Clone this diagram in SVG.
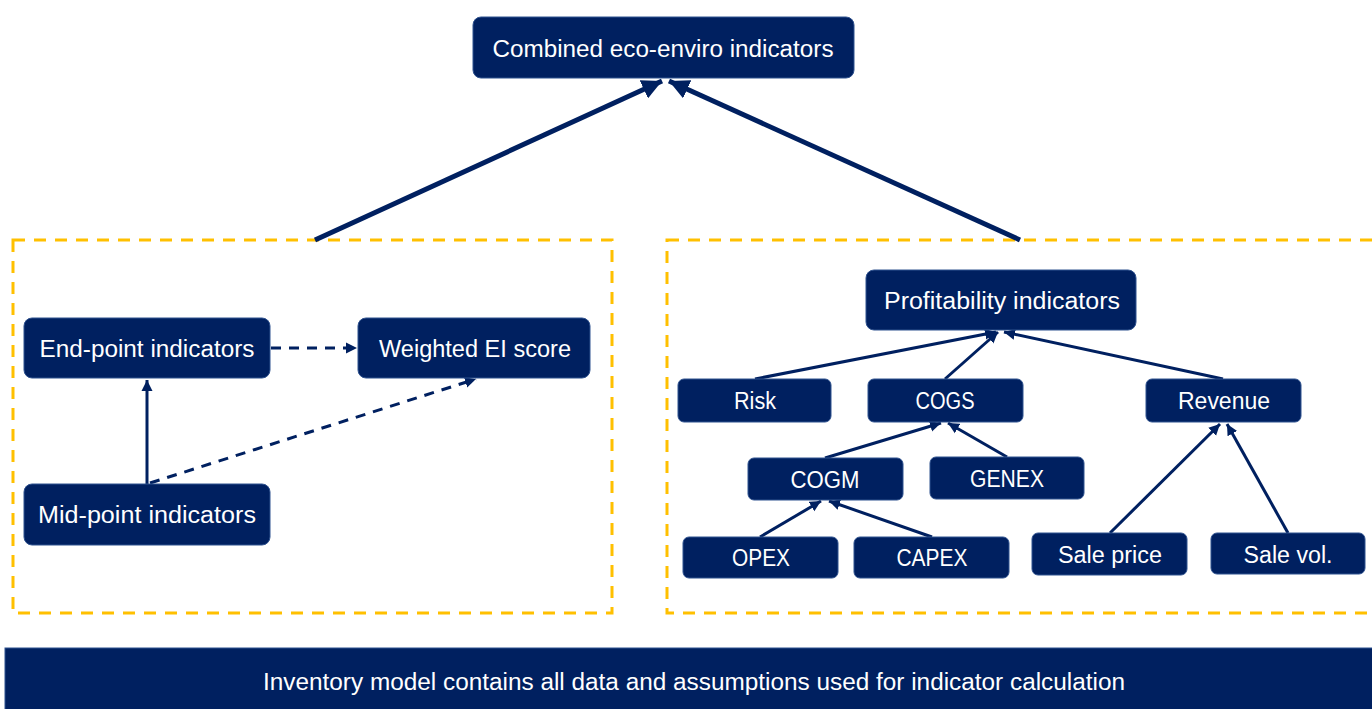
<svg xmlns="http://www.w3.org/2000/svg" width="1372" height="709" viewBox="0 0 1372 709">
<style>
.node rect{fill:#002060;stroke:#2F528F;stroke-width:1}
.node text{fill:#fff;font-family:"Liberation Sans",Arial,sans-serif;font-size:23px;text-anchor:middle}
.grp{fill:none;stroke:#FFC000;stroke-width:3;stroke-dasharray:12 9}
.thick{stroke:#002060;stroke-width:5;fill:none}
.thin{stroke:#002060;stroke-width:3;fill:none}
.dash{stroke:#002060;stroke-width:3;fill:none;stroke-dasharray:10 8}
</style>
<defs>
<marker id="big" markerUnits="userSpaceOnUse" markerWidth="22" markerHeight="20" refX="20" refY="10" orient="auto"><path d="M0,0 L20,10 L0,20 z" fill="#002060"/></marker>
<marker id="sm" markerUnits="userSpaceOnUse" markerWidth="12" markerHeight="12" refX="11" refY="6" orient="auto"><path d="M0,0.5 L11,6 L0,11.5 z" fill="#002060"/></marker>
</defs>
<rect width="1372" height="709" fill="#fff"/>
<g id="groups">
<rect class="grp" x="13" y="240" width="599" height="373"/>
<rect class="grp" x="667" y="240" width="720" height="373"/>
</g>
<g id="connectors">
<line class="thick" x1="315" y1="240" x2="662" y2="81" marker-end="url(#big)"/>
<line class="thick" x1="1020" y1="240" x2="669" y2="81" marker-end="url(#big)"/>
<line class="dash" x1="271" y1="348" x2="357" y2="348" marker-end="url(#sm)"/>
<line class="thin" x1="147" y1="484" x2="147" y2="380" marker-end="url(#sm)"/>
<line class="dash" x1="150" y1="483" x2="476" y2="379" marker-end="url(#sm)"/>
<line class="thin" x1="755" y1="379" x2="996" y2="332" marker-end="url(#sm)"/>
<line class="thin" x1="945" y1="379" x2="998" y2="332" marker-end="url(#sm)"/>
<line class="thin" x1="1223" y1="379" x2="1004" y2="332" marker-end="url(#sm)"/>
<line class="thin" x1="825" y1="458" x2="941" y2="423" marker-end="url(#sm)"/>
<line class="thin" x1="1007" y1="457" x2="948" y2="423" marker-end="url(#sm)"/>
<line class="thin" x1="760" y1="537" x2="821" y2="501" marker-end="url(#sm)"/>
<line class="thin" x1="932" y1="537" x2="829" y2="501" marker-end="url(#sm)"/>
<line class="thin" x1="1110" y1="533" x2="1220" y2="424" marker-end="url(#sm)"/>
<line class="thin" x1="1288" y1="533" x2="1227" y2="424" marker-end="url(#sm)"/>
</g>
<g id="n-combined" class="node"><rect x="473" y="17" width="381" height="61" rx="8"/><text x="663" y="57" textLength="341" lengthAdjust="spacingAndGlyphs">Combined eco-enviro indicators</text></g>
<g id="n-endpoint" class="node"><rect x="24" y="318" width="246" height="60" rx="8"/><text x="147" y="357" textLength="215" lengthAdjust="spacingAndGlyphs">End-point indicators</text></g>
<g id="n-weighted" class="node"><rect x="358" y="318" width="232" height="60" rx="8"/><text x="475" y="357" textLength="192" lengthAdjust="spacingAndGlyphs">Weighted EI score</text></g>
<g id="n-midpoint" class="node"><rect x="24" y="484" width="246" height="61" rx="8"/><text x="147" y="523" textLength="218" lengthAdjust="spacingAndGlyphs">Mid-point indicators</text></g>
<g id="n-profit" class="node"><rect x="866" y="270" width="270" height="60" rx="8"/><text x="1002" y="309" textLength="236" lengthAdjust="spacingAndGlyphs">Profitability indicators</text></g>
<g id="n-risk" class="node"><rect x="678" y="379" width="153" height="43" rx="6"/><text x="755" y="409" textLength="42" lengthAdjust="spacingAndGlyphs">Risk</text></g>
<g id="n-cogs" class="node"><rect x="868" y="379" width="155" height="43" rx="6"/><text x="945" y="409" textLength="59" lengthAdjust="spacingAndGlyphs">COGS</text></g>
<g id="n-revenue" class="node"><rect x="1146" y="379" width="155" height="43" rx="6"/><text x="1224" y="409" textLength="92" lengthAdjust="spacingAndGlyphs">Revenue</text></g>
<g id="n-cogm" class="node"><rect x="748" y="458" width="155" height="42" rx="6"/><text x="825" y="488" textLength="69" lengthAdjust="spacingAndGlyphs">COGM</text></g>
<g id="n-genex" class="node"><rect x="930" y="457" width="154" height="42" rx="6"/><text x="1007" y="487" textLength="74" lengthAdjust="spacingAndGlyphs">GENEX</text></g>
<g id="n-opex" class="node"><rect x="683" y="537" width="155" height="41" rx="6"/><text x="761" y="566" textLength="58" lengthAdjust="spacingAndGlyphs">OPEX</text></g>
<g id="n-capex" class="node"><rect x="854" y="537" width="155" height="41" rx="6"/><text x="932" y="566" textLength="71" lengthAdjust="spacingAndGlyphs">CAPEX</text></g>
<g id="n-saleprice" class="node"><rect x="1032" y="533" width="155" height="42" rx="6"/><text x="1110" y="563" textLength="104" lengthAdjust="spacingAndGlyphs">Sale price</text></g>
<g id="n-salevol" class="node"><rect x="1211" y="533" width="154" height="41" rx="6"/><text x="1288" y="563" textLength="89" lengthAdjust="spacingAndGlyphs">Sale vol.</text></g>
<g id="n-inventory" class="node"><rect x="5" y="648" width="1380" height="70" rx="0"/><text x="694" y="690" textLength="862" lengthAdjust="spacingAndGlyphs">Inventory model contains all data and assumptions used for indicator calculation</text></g>
</svg>
